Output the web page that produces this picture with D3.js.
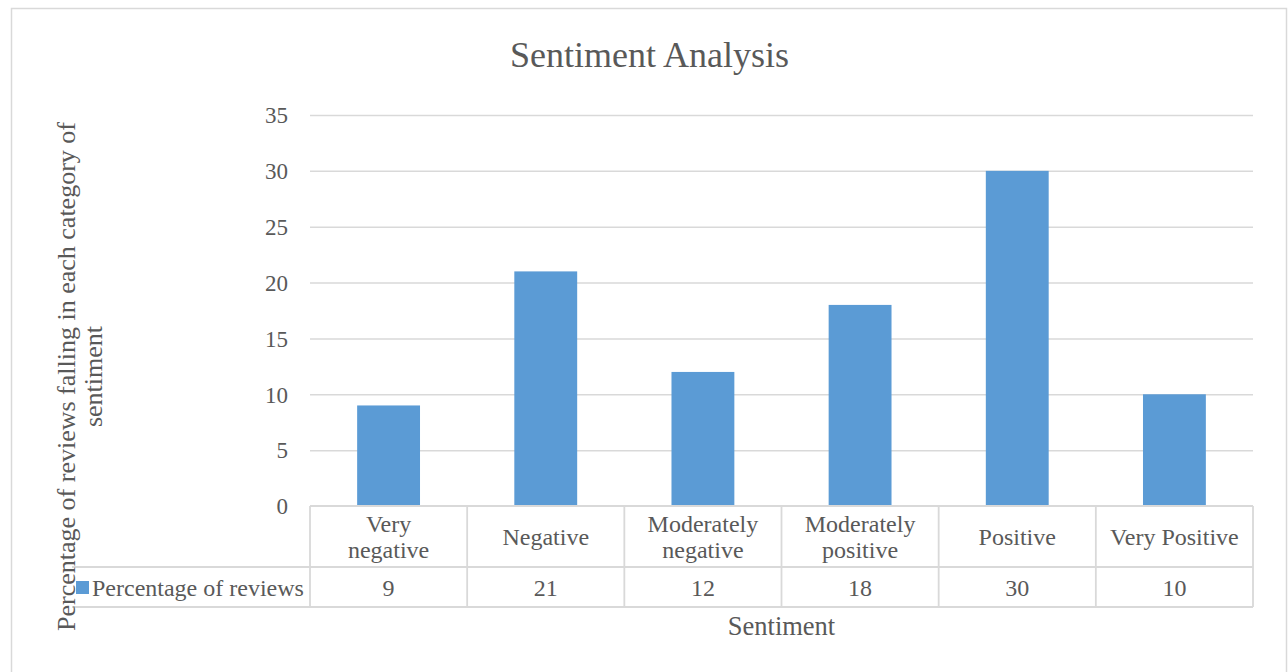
<!DOCTYPE html>
<html><head><meta charset="utf-8">
<script src="https://cdn.jsdelivr.net/npm/d3@7"></script>
<style>
html,body{margin:0;padding:0;background:#fff;}
svg{display:block;}
text{font-family:"Liberation Serif","DejaVu Serif",serif;fill:#595959;}
</style></head>
<body>
<script>
const categories = [["Very","negative"],["Negative"],["Moderately","negative"],["Moderately","positive"],["Positive"],["Very Positive"]];
const values = [9, 21, 12, 18, 30, 10];
const seriesName = "Percentage of reviews";
const yTicks = [0, 5, 10, 15, 20, 25, 30, 35];
const chartTitle = "Sentiment Analysis";
const xTitle = "Sentiment";
const yTitle = ["Percentage of reviews falling in each category of", "sentiment"];

(function () {
const W = 1288, H = 672;
const svg = d3.select("body").append("svg").attr("width", W).attr("height", H);

// outer border
svg.append("rect").attr("x", 11.5).attr("y", 8.5).attr("width", 1275).attr("height", 720)
  .attr("fill", "#fff").attr("stroke", "#D9D9D9").attr("stroke-width", 1.5);

const pLeft = 310, pRight = 1253, pTop = 115, zeroY = 506;
const row1 = 567, row2 = 607, legendLeft = 72;
const grid = "#D9D9D9";

const x = d3.scaleBand().domain(d3.range(categories.length)).range([pLeft, pRight]).paddingInner(0).paddingOuter(0);
const y = d3.scaleLinear().domain([0, 35]).range([zeroY, pTop]);

// gridlines + tick labels
const yAxis = d3.axisLeft(y).tickValues(yTicks).tickSize(-(pRight - pLeft)).tickPadding(22).tickFormat(d3.format("d"));
const gy = svg.append("g").attr("transform", `translate(${pLeft},0)`).call(yAxis);
gy.select(".domain").remove();
gy.selectAll(".tick line").attr("stroke", grid).attr("stroke-width", 1.5)
  .attr("display", d => d === 0 ? "none" : null);
gy.selectAll(".tick text").attr("font-family", '"Liberation Serif", serif').attr("font-size", 23)
  .attr("fill", "#595959").attr("dy", "0.34em");

// bars
const bw = x.bandwidth() * 0.4;
svg.append("g").selectAll("rect").data(values).join("rect")
  .attr("x", (d, i) => x(i) + (x.bandwidth() - bw) / 2)
  .attr("y", d => y(d))
  .attr("width", bw)
  .attr("height", d => y(0) - y(d))
  .attr("fill", "#5B9BD5");

// data table
const tg = svg.append("g").attr("stroke", grid).attr("stroke-width", 1.8).attr("fill", "none");
tg.append("line").attr("x1", pLeft).attr("x2", pRight).attr("y1", zeroY).attr("y2", zeroY);
tg.append("line").attr("x1", legendLeft).attr("x2", pRight).attr("y1", row1).attr("y2", row1);
tg.append("line").attr("x1", legendLeft).attr("x2", pRight).attr("y1", row2).attr("y2", row2);
const bounds = d3.range(categories.length + 1).map(i => i < categories.length ? x(i) : pRight);
tg.selectAll("line.v").data(bounds).join("line").attr("class", "v")
  .attr("x1", d => d).attr("x2", d => d).attr("y1", zeroY).attr("y2", row2);

// category labels
const cg = svg.append("g");
categories.forEach((lines, i) => {
  const cx = x(i) + x.bandwidth() / 2;
  const lh = 26.5;
  const base = (zeroY + row1) / 2 + 8.5 - (lines.length - 1) * lh / 2;
  lines.forEach((t, j) => {
    cg.append("text").attr("x", cx).attr("y", base + j * lh).attr("text-anchor", "middle")
      .attr("font-size", 24).text(t);
  });
});

// values row
svg.append("g").selectAll("text").data(values).join("text")
  .attr("x", (d, i) => x(i) + x.bandwidth() / 2).attr("y", (row1 + row2) / 2 + 9)
  .attr("text-anchor", "middle").attr("font-size", 24).text(d => d);

// legend key
svg.append("rect").attr("x", 76).attr("y", 581).attr("width", 13).attr("height", 13).attr("fill", "#5B9BD5");
svg.append("text").attr("x", 92).attr("y", 596).attr("font-size", 24).text(seriesName);

// titles
svg.append("text").attr("x", 649.5).attr("y", 67).attr("text-anchor", "middle").attr("font-size", 36).text(chartTitle);
svg.append("text").attr("x", 781.5).attr("y", 635).attr("text-anchor", "middle").attr("font-size", 26.5).text(xTitle);
yTitle.forEach((t, j) => {
  svg.append("text").attr("transform", `translate(${75 + j * 27},376.5) rotate(-90)`)
    .attr("text-anchor", "middle").attr("font-size", 26).text(t);
});
})();
</script>
</body></html>
